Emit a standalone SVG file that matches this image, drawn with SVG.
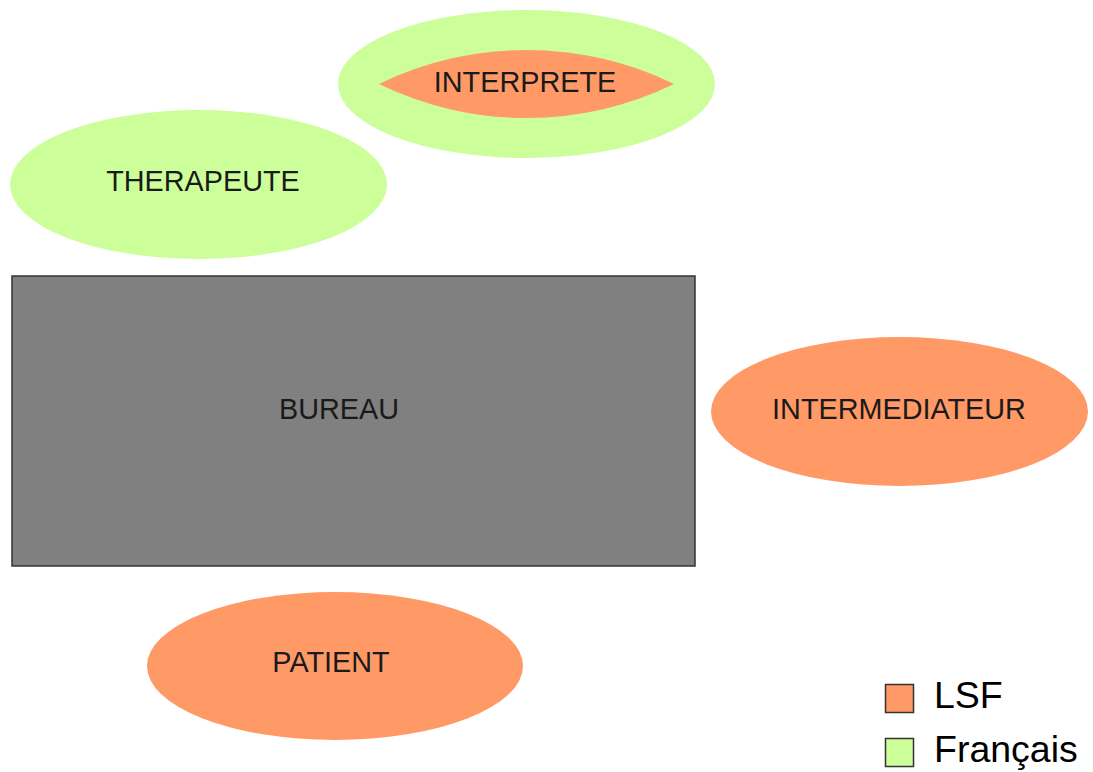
<svg xmlns="http://www.w3.org/2000/svg" width="1093" height="772" viewBox="0 0 1093 772">
<style>
.lsf{fill:#FF9966}
.fr{fill:#CCFF99}
.lbl{font-family:"Liberation Sans",Arial,sans-serif;font-size:28.8px;fill:#1a1a1a;text-anchor:middle}
.leg{font-family:"Liberation Sans",Arial,sans-serif;font-size:37.5px;fill:#000}
.sw{stroke:#333;stroke-width:1.5}
</style>
<rect width="1093" height="772" fill="#fff"/>
<g id="interprete">
<ellipse class="fr" cx="526.5" cy="84" rx="188.5" ry="74"/>
<path class="lsf" d="M379,84 A337,337 0 0 1 674,84 A337,337 0 0 1 379,84 Z"/>
<text class="lbl" x="525" y="91.5">INTERPRETE</text>
</g>
<g id="therapeute">
<ellipse class="fr" cx="198.5" cy="184.5" rx="188.5" ry="74.5"/>
<text class="lbl" x="203" y="191">THERAPEUTE</text>
</g>
<g id="bureau">
<rect x="12" y="276" width="683" height="290" fill="#808080" stroke="#333" stroke-width="1.5"/>
<text class="lbl" x="339" y="419">BUREAU</text>
</g>
<g id="intermediateur">
<ellipse class="lsf" cx="899.5" cy="411.5" rx="188.5" ry="74.5"/>
<text class="lbl" x="899" y="419">INTERMEDIATEUR</text>
</g>
<g id="patient">
<ellipse class="lsf" cx="335" cy="666" rx="188" ry="74"/>
<text class="lbl" x="331" y="672">PATIENT</text>
</g>
<g id="connectors"></g>
<g id="legend">
<rect class="lsf sw" x="885.5" y="684.5" width="28" height="28"/>
<text class="leg" x="934" y="708">LSF</text>
<rect class="fr sw" x="885.5" y="738.5" width="28" height="28"/>
<text class="leg" x="934" y="762">Français</text>
</g>
</svg>
